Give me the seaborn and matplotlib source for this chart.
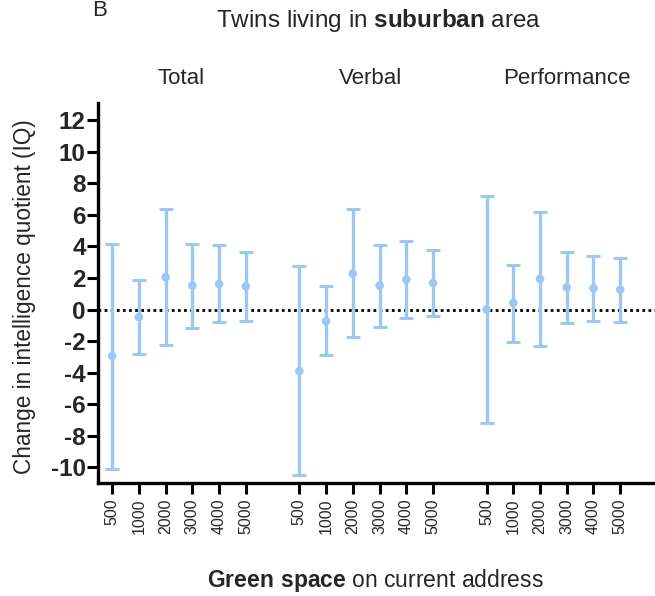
import matplotlib
matplotlib.use("Agg")
import matplotlib.pyplot as plt
import seaborn as sns
import pandas as pd

# Buffer sizes (m) and IQ domains
buffers = ["500", "1000", "2000", "3000", "4000", "5000"]
domains = ["Total", "Verbal", "Performance"]

# Change in IQ per buffer: estimate with 95% CI
total_est = [-2.95, -0.48, 2.05, 1.52, 1.62, 1.48]
total_lo = [-10.1, -2.85, -2.26, -1.16, -0.78, -0.70]
total_hi = [4.18, 1.90, 6.39, 4.18, 4.07, 3.65]

verbal_est = [-3.90, -0.74, 2.28, 1.52, 1.90, 1.69]
verbal_lo = [-10.47, -2.91, -1.75, -1.12, -0.53, -0.42]
verbal_hi = [2.78, 1.48, 6.37, 4.11, 4.32, 3.76]

perf_est = [0.0, 0.42, 1.94, 1.41, 1.35, 1.27]
perf_lo = [-7.22, -2.03, -2.32, -0.87, -0.72, -0.76]
perf_hi = [7.22, 2.80, 6.16, 3.67, 3.42, 3.27]

yticks = [12, 10, 8, 6, 4, 2, 0, -2, -4, -6, -8, -10]

sns.set_theme(style="ticks")
plt.rcParams["font.family"] = ["Liberation Sans", "DejaVu Sans"]
plt.rcParams["mathtext.fontset"] = "custom"
plt.rcParams["mathtext.rm"] = "Liberation Sans"
plt.rcParams["mathtext.bf"] = "Liberation Sans:bold"

rows = []
for g, (d, est, lo, hi) in enumerate(zip(domains,
                                          [total_est, verbal_est, perf_est],
                                          [total_lo, verbal_lo, perf_lo],
                                          [total_hi, verbal_hi, perf_hi])):
    for i, b in enumerate(buffers):
        rows.append(dict(domain=d, buffer=b, pos=g * 7 + i,
                         est=est[i], lo=lo[i], hi=hi[i]))
df = pd.DataFrame(rows)

blue = "#9CC8F2"

fig = plt.figure(figsize=(6.55, 5.96), dpi=100)
ax = fig.add_axes([0.150, 0.1896, 0.85, 0.6376])

ax.axhline(0, color="black", linestyle=(0, (1, 1.2)), linewidth=2, zorder=1)

ax.errorbar(df["pos"], df["est"],
            yerr=[df["est"] - df["lo"], df["hi"] - df["est"]],
            fmt="none", ecolor=blue, elinewidth=2.4, capsize=4.8, capthick=2.2,
            zorder=2)
sns.scatterplot(data=df, x="pos", y="est", ax=ax, color=blue, s=38,
                edgecolor="none", zorder=3, legend=False)

ax.set_xlim(-0.52, 20.3)
ax.set_ylim(-11, 13.1)
ax.set_yticks(yticks)
ax.set_yticklabels([str(t) for t in yticks], fontsize=17.5, fontweight="bold")
ax.set_xticks(df["pos"])
ax.set_xticklabels(df["buffer"], rotation=90, fontsize=11.5)
ax.set_xlabel("")
ax.set_ylabel("Change in intelligence quotient (IQ)", fontsize=16.3)
ax.yaxis.set_label_coords(-0.112, 0.49)
ax.tick_params(axis="both", length=8, width=2.2, color="black")
ax.tick_params(axis="y", pad=1)
ax.tick_params(axis="x", pad=3)

sns.despine(ax=ax)
for s in ["left", "bottom"]:
    ax.spines[s].set_linewidth(2.4)
    ax.spines[s].set_color("black")

# Panel letter and title
fig.text(100 / 655, 1 - 10 / 596, "B", fontsize=16, ha="center", va="center")
fig.text(379 / 655, 1 - 20 / 596, r"Twins living in $\mathbf{suburban}$ area",
         fontsize=17.5, ha="center", va="center")

# Domain headers
for d, xp in zip(domains, [181, 371, 567]):
    fig.text(xp / 655, 1 - 78 / 596, d, fontsize=16, ha="center", va="center")

# X axis title
fig.text(375 / 655, 1 - 580 / 596,
         r"$\mathbf{Green\ space}$ on current address",
         fontsize=16.5, ha="center", va="center")

fig.savefig("out.png", dpi=100, facecolor="white")
